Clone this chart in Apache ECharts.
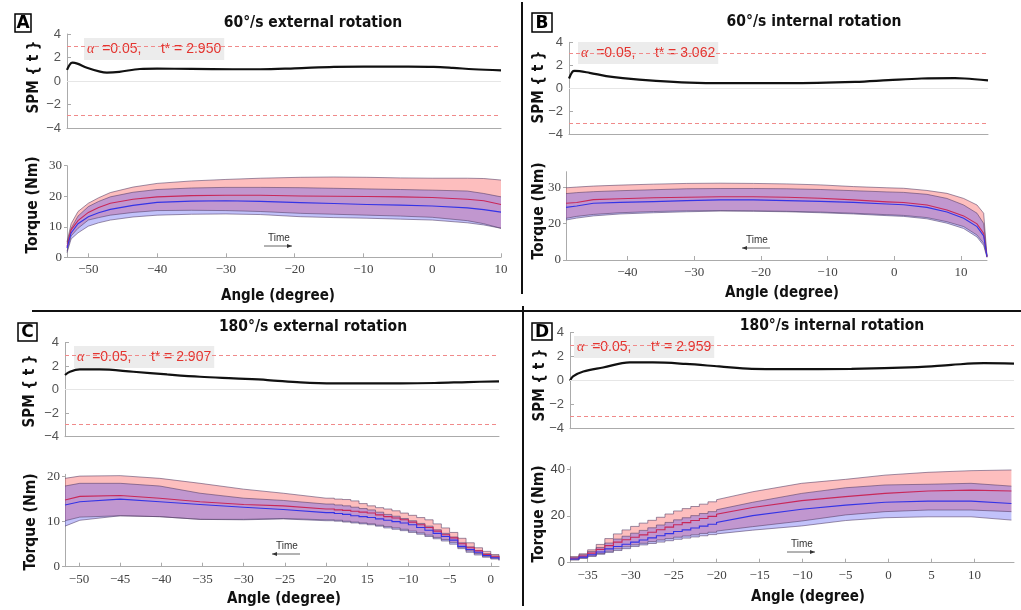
<!DOCTYPE html>
<html><head><meta charset="utf-8">
<script src="https://cdn.jsdelivr.net/npm/echarts@6/dist/echarts.min.js"></script>
<style>html,body{margin:0;padding:0;background:#fff}#c{width:1021px;height:610px}</style>
</head><body><div id="c"></div>
<script>
// ---------------- DATA ----------------
// SPM{t} curves
const A_spmAngle = [-53.1,-52.7,-52.3,-51.6,-50.2,-48.3,-47.3,-45.5,-42.5,-40,-35,-29,-25,-20,-14.3,-10,-5,0.2,3,6,10];
const A_spmT     = [0.94,1.4,1.56,1.48,1.13,0.8,0.72,0.78,1.02,1.05,1.03,1.0,1.0,1.08,1.2,1.23,1.22,1.2,1.12,1.0,0.91];
const B_spmAngle = [-49.2,-48.7,-48.35,-46.1,-43.6,-41.1,-36.1,-31.1,-26.1,-16.1,-6.1,-1.1,3.9,8.9,10.4,13.9];
const B_spmT     = [0.84,1.42,1.51,1.34,1.05,0.87,0.64,0.49,0.44,0.44,0.55,0.7,0.84,0.87,0.84,0.67];
const C_spmAngle = [-51.7,-51.1,-49.9,-47.5,-43.4,-39.3,-35.3,-31.2,-27.1,-23.1,-19,-10.9,-6.8,-2.8,1.0];
const C_spmT     = [1.25,1.53,1.73,1.73,1.53,1.3,1.1,0.96,0.82,0.62,0.54,0.54,0.57,0.65,0.71];
const D_spmAngle = [-37.05,-36.7,-35.5,-33.2,-30.1,-27.4,-23.6,-19.7,-15.9,-12.0,-4.3,3.4,7.3,11.1,14.6];
const D_spmT     = [0,0.36,0.77,1.1,1.52,1.52,1.4,1.19,0.99,0.97,0.99,1.13,1.32,1.46,1.43];
// critical thresholds
const A_tstar = 2.950, B_tstar = 3.062, C_tstar = 2.907, D_tstar = 2.959;
const alphaText = '0.05';

// Torque bands (red group / blue group: upper, mean, lower)
const A_angle   = [-53.1,-52.5,-51.5,-50,-48.5,-46.8,-43.5,-40,-35,-30,-25,-19.2,-14.3,-9.5,-4.6,0,5.1,7.5,10];
const A_redUp   = [5,11,15,17.7,19.5,21.2,23,24.2,25,25.5,25.9,26.2,26.3,26.2,26,25.9,25.9,25.8,25.3];
const A_redMean = [3.5,9,12,14.7,16.3,17.7,19,19.8,20.2,20.3,20.3,20.1,20,19.9,19.8,19.6,19,18.5,17.3];
const A_redLow  = [2,7,9.5,12.2,13,13.8,14.7,15.3,15.4,15.3,15,14.4,14.1,13.8,13.5,13.1,12,11,9.5];
const A_bluUp   = [4.5,9.5,13.5,16.6,18.3,19.8,21.3,22.2,22.7,22.9,22.9,22.8,22.6,22.4,22.2,22,21.7,20.9,19.8];
const A_bluMean = [3,8,11,13.3,14.6,15.7,17,18,18.4,18.5,18.3,17.9,17.6,17.3,17.1,16.8,16.2,15.6,14.8];
const A_bluLow  = [1.5,6,8,10.2,11.3,12.2,13.2,13.8,14.1,14.2,14,13.3,13,12.8,12.5,12.2,11.3,10.6,9.5];

const B_angle   = [-49.2,-47.6,-45.1,-41.1,-36.1,-31.1,-26.1,-21.1,-16.1,-11.1,-6.1,-1.1,1.4,4.9,7.9,10.4,12.4,13.4,13.9];
const B_redUp   = [29.8,30.1,30.5,30.9,31.3,31.6,31.7,31.6,31.4,31,30.3,29.8,29.6,28.7,27.5,25.4,22.7,19.3,1.4];
const B_redMean = [23.4,23.7,24.9,25.3,25.7,25.9,26.1,26.1,25.9,25.5,24.8,24,23.7,22.7,20.6,18.2,14.9,11,1.4];
const B_redLow  = [17.2,18,18.8,19.5,20,20.3,20.4,20.3,20.1,19.8,19.3,18.7,18.4,17.5,15.8,13.8,10.3,6.9,1.4];
const B_bluUp   = [27.4,27.8,28.2,28.6,29.0,29.4,29.5,29.5,29.4,29.1,28.6,28.1,27.9,27.1,25.4,22.7,19.3,15.1,1.4];
const B_bluMean = [21.7,22.3,23.4,23.8,24.1,24.5,24.8,24.8,24.5,24.2,23.8,23.1,22.8,21.7,19.8,17.2,13.8,9.9,1.4];
const B_bluLow  = [16.5,17.3,18.2,19,19.5,19.9,20.2,20.1,19.9,19.5,19,18.3,18,17,15.2,13,9.5,6,1.0];

const C_angle   = [-51.7,-49.9,-45,-40.2,-35.3,-30,-25.2,-20,-19,-18,-17,-16,-15,-14,-13,-12,-11,-10,-9,-8,-7,-6,-5,-4,-3,-2,-1,0,1];
const C_redUp   = [19.6,20.1,20.2,19.6,18.5,17.2,16.3,15.2,15.0,14.9,14.6,14.0,13.5,13.1,12.8,12.4,11.9,11.4,10.9,10.4,9.5,8.6,7.6,6.3,5.3,4.2,3.4,2.7,2.2];
const C_redMean = [14.8,15.6,15.8,15.2,14.4,13.8,13.5,12.8,12.6,12.5,12.3,12.1,11.9,11.5,11.1,10.8,10.4,9.9,9.3,8.7,7.9,7.1,6.4,5.1,4.2,3.5,2.7,2.2,1.9];
const C_redLow  = [10.2,11,11.3,11.1,10.5,10.5,10.7,10.4,10.3,10.1,9.9,9.7,9.5,9.2,8.9,8.6,8.3,7.9,7.5,7.0,6.5,6.0,5.4,4.3,3.5,2.9,2.3,1.9,1.5];
const C_bluUp   = [17.9,18.5,18.5,17.9,16.3,15.2,14.7,13.9,13.7,13.5,13.2,12.9,12.6,12.1,11.6,11.2,10.7,10.2,9.6,9.0,8.2,7.4,6.6,5.3,4.4,3.6,2.9,2.4,2.1];
const C_bluMean = [13.7,14.4,15,14.4,13.8,13.2,12.7,12.0,11.8,11.6,11.3,11.1,10.9,10.6,10.3,10.0,9.7,9.3,8.7,8.1,7.4,6.7,5.9,4.5,3.8,3.2,2.5,2.0,1.6];
const C_bluLow  = [9.0,10.3,11.3,11.1,10.5,10.4,10.6,10.2,10.1,9.9,9.7,9.5,9.3,9.0,8.6,8.3,8.0,7.6,7.2,6.7,6.2,5.7,5.0,4.0,3.2,2.6,2.1,1.7,1.3];

const D_angle   = [-37.05,-36,-35,-34,-33,-32,-31,-30,-29,-28,-27,-26,-25,-24,-23,-22,-21,-20,-15.8,-10.1,-5.0,-0.4,4.6,9.6,14.3];
const D_redUp   = [2.6,3.8,5.5,7.8,10.3,12.3,14,15.5,16.9,18.1,19.4,20.8,22.1,23.1,24.0,25.0,26.0,26.9,30.3,33.9,35.6,37.4,38.6,39.3,39.6];
const D_redMean = [1.9,2.8,4.1,5.7,7.3,8.8,9.8,10.9,11.9,13.0,14.1,15.2,16.2,17.1,18.0,18.9,19.8,20.7,23.6,26.5,28.2,29.6,30.6,31.0,30.6];
const D_redLow  = [1.4,2.1,2.9,3.9,4.9,5.9,6.8,7.6,8.3,9.0,9.7,10.3,10.9,11.4,11.9,12.5,13.0,13.5,15.4,17.8,20.4,21.8,22.5,22.5,21.8];
const D_bluUp   = [2.3,3.4,4.8,6.5,8.4,10.1,11.3,12.6,13.8,14.9,16.1,17.2,18.3,19.2,20.1,21.0,21.8,22.6,25.8,29.6,32,33.2,33.5,33.9,32.7];
const D_bluMean = [1.6,2.4,3.4,4.6,5.9,6.9,7.9,8.8,9.7,10.6,11.5,12.4,13.3,14.0,14.8,15.6,16.4,17.2,20.1,22.8,24.6,25.8,26.3,26.3,25.3];
const D_bluLow  = [1.1,1.8,2.7,3.6,4.4,5.2,6.0,6.9,7.6,8.2,8.8,9.4,10.0,10.5,11.0,11.5,12.0,12.3,13.9,15.7,18,19.2,19.6,19.6,18.2];

// Tick values and tick labels
const SPM_yTicks = [-4,-2,0,2,4];
const SPM_yLabels = ['\u22124','\u22122','0','2','4'];
const A_xTicks = [-50,-40,-30,-20,-10,0,10];
const A_xLabels = ['\u221250','\u221240','\u221230','\u221220','\u221210','0','10'];
const A_yTicks = [0,10,20,30];
const A_yLabels = ['0','10','20','30'];
const B_xTicks = [-40,-30,-20,-10,0,10];
const B_xLabels = ['\u221240','\u221230','\u221220','\u221210','0','10'];
const B_yTicks = [0,15,30];
const B_yLabels = ['0','20','30'];
const C_xTicks = [-50,-45,-40,-35,-30,-25,-20,-15,-10,-5,0];
const C_xLabels = ['\u221250','\u221245','\u221240','\u221235','\u221230','\u221225','\u221220','15','\u221210','\u22125','0'];
const C_yTicks = [0,10,20];
const C_yLabels = ['0','10','20'];
const D_xTicks = [-35,-30,-25,-20,-15,-10,-5,0,5,10];
const D_xLabels = ['\u221235','\u221230','\u221225','\u221220','\u221215','\u221210','\u22125','0','5','10'];
const D_yTicks = [0,20,40];
const D_yLabels = ['0','20','40'];

// Text
const titles = ['60\u00b0/s external rotation','60\u00b0/s internal rotation','180\u00b0/s external rotation','180\u00b0/s internal rotation'];
const letters = ['A','B','C','D'];

// ---------------- LAYOUT ----------------
const panels = [
  {spmGrid:{left:67,top:34,width:434,height:94}, tqGrid:{left:67,top:165.7,width:434,height:91.6},
   xMin:-53.1,xMax:10, yMax:30, spmAng:A_spmAngle, spmT:A_spmT, tstar:A_tstar,
   ang:A_angle, rU:A_redUp, rM:A_redMean, rL:A_redLow, bU:A_bluUp, bM:A_bluMean, bL:A_bluLow,
   xT:A_xTicks, xL:A_xLabels, yT:A_yTicks, yL:A_yLabels, yFont:'Liberation Serif', step:null,
   title:{x:313,y:23}, letter:{x:15,y:14,w:16,h:18}, box:{x:84,y:38},
   angleName:{x:278,y:296}, torqueName:{x:33,y:205}, spmName:{x:34,y:77},
   time:{x:278,y:238,dir:1}},
  {spmGrid:{left:569,top:42.3,width:419,height:91.7}, tqGrid:{left:566,top:171.7,width:421,height:88.3},
   xMin:-49.2,xMax:13.9, yMax:36.44, spmAng:B_spmAngle, spmT:B_spmT, tstar:B_tstar,
   ang:B_angle, rU:B_redUp, rM:B_redMean, rL:B_redLow, bU:B_bluUp, bM:B_bluMean, bL:B_bluLow,
   xT:B_xTicks, xL:B_xLabels, yT:B_yTicks, yL:B_yLabels, yFont:'Liberation Serif', step:null,
   title:{x:814,y:22}, letter:{x:532,y:13,w:20,h:19}, box:{x:578,y:42},
   angleName:{x:782,y:293}, torqueName:{x:539,y:211}, spmName:{x:539,y:87},
   time:{x:756,y:240,dir:-1}},
  {spmGrid:{left:65,top:342.7,width:434,height:94}, tqGrid:{left:65,top:474.3,width:434,height:92.4},
   xMin:-51.7,xMax:1.0, yMax:20.5, spmAng:C_spmAngle, spmT:C_spmT, tstar:C_tstar,
   ang:C_angle, rU:C_redUp, rM:C_redMean, rL:C_redLow, bU:C_bluUp, bM:C_bluMean, bL:C_bluLow,
   xT:C_xTicks, xL:C_xLabels, yT:C_yTicks, yL:C_yLabels, yFont:'Liberation Serif', step:[-20.5,2],
   title:{x:313,y:327}, letter:{x:18,y:323,w:19,h:18}, box:{x:74,y:346},
   angleName:{x:284,y:599}, torqueName:{x:31,y:522}, spmName:{x:30,y:391},
   time:{x:286,y:546,dir:-1}},
  {spmGrid:{left:570,top:332.7,width:444,height:96}, tqGrid:{left:570,top:466.7,width:444,height:96},
   xMin:-37.05,xMax:14.6, yMax:41, spmAng:D_spmAngle, spmT:D_spmT, tstar:D_tstar,
   ang:D_angle, rU:D_redUp, rM:D_redMean, rL:D_redLow, bU:D_bluUp, bM:D_bluMean, bL:D_bluLow,
   xT:D_xTicks, xL:D_xLabels, yT:D_yTicks, yL:D_yLabels, yFont:'Liberation Sans', step:[-38,-19.5],
   title:{x:832,y:326}, letter:{x:532,y:323,w:20,h:17}, box:{x:574,y:336},
   angleName:{x:808,y:597}, torqueName:{x:539,y:514}, spmName:{x:540,y:385},
   time:{x:801,y:544,dir:1}}
];

const AX = '#ababab';
const BOLD = '"DejaVu Sans Condensed", "DejaVu Sans"';
const option = {animation:false, grid:[], xAxis:[], yAxis:[], series:[], graphic:[]};
let gi = 0;

function linePts(api, ang, val, step) {
  const out = [];
  for (let i = 0; i < ang.length; i++) {
    if (step && i > 0 && ang[i - 1] >= step[0] && ang[i] <= step[1]) {
      out.push(api.coord([ang[i], val[i - 1]]));
    }
    out.push(api.coord([ang[i], val[i]]));
  }
  return out;
}
function bandSeries(g, ang, up, low, fill, step) {
  return {type:'custom', xAxisIndex:g, yAxisIndex:g, silent:true,
    data: ang.map((a,i)=>[a, up[i], low[i]]), encode:{x:0, y:[1,2]},
    renderItem: function(params, api) {
      if (params.dataIndex !== 0) return null;
      const u = linePts(api, ang, up, step), l = linePts(api, ang, low, step);
      return {type:'polygon', shape:{points:u.concat(l.slice().reverse())}, style:{fill:fill}};
    }};
}
function curveSeries(g, ang, val, color, width, step) {
  return {type:'custom', xAxisIndex:g, yAxisIndex:g, silent:true,
    data: ang.map((a,i)=>[a, val[i]]), encode:{x:0, y:1},
    renderItem: function(params, api) {
      if (params.dataIndex !== 0) return null;
      return {type:'polyline', shape:{points:linePts(api, ang, val, step)}, style:{stroke:color, lineWidth:width, fill:null}};
    }};
}

panels.forEach(function(p, k) {
  // SPM grid
  option.grid.push(Object.assign({}, p.spmGrid));
  const gs = gi++;
  option.xAxis.push({type:'value', gridIndex:gs, min:p.xMin, max:p.xMax,
    axisLine:{show:true, onZero:false, lineStyle:{color:AX, width:1}}, axisTick:{show:false}, axisLabel:{show:false}, splitLine:{show:false}});
  option.yAxis.push({type:'value', gridIndex:gs, min:-4, max:4, interval:2,
    axisLine:{show:true, onZero:false, lineStyle:{color:AX}}, axisTick:{show:true, inside:true, length:4, lineStyle:{color:AX}},
    axisLabel:{color:'#555', fontFamily:'Liberation Sans', fontSize:13, margin:6,
      formatter: v => { const i = SPM_yTicks.indexOf(v); return i < 0 ? '' : SPM_yLabels[i]; }},
    splitLine:{show:false}});
  option.series.push({type:'line', xAxisIndex:gs, yAxisIndex:gs, data:p.spmAng.map((a,i)=>[a, p.spmT[i]]),
    smooth:0.35, symbol:'none', silent:true, lineStyle:{color:'#111', width:2.2},
    markLine:{silent:true, symbol:['none','none'], label:{show:false},
      data:[{yAxis:0, lineStyle:{color:'#e6e6e6', type:'solid', width:1}},
            {yAxis:p.tstar, lineStyle:{color:'#f08a8a', type:[4,3], width:1}},
            {yAxis:-p.tstar, lineStyle:{color:'#f08a8a', type:[4,3], width:1}}]}});

  // Torque grid
  option.grid.push(Object.assign({}, p.tqGrid));
  const gt = gi++;
  option.xAxis.push({type:'value', gridIndex:gt, min:p.xMin, max:p.xMax,
    axisLine:{show:true, onZero:false, lineStyle:{color:AX}},
    axisTick:{show:true, inside:true, length:4, customValues:p.xT, lineStyle:{color:AX}},
    axisLabel:{customValues:p.xT, color:'#444', fontFamily:'Liberation Serif', fontSize:13, margin:6,
      formatter: v => { const i = p.xT.indexOf(v); return i < 0 ? '' : p.xL[i]; }},
    splitLine:{show:false}});
  option.yAxis.push({type:'value', gridIndex:gt, min:0, max:p.yMax,
    axisLine:{show:true, onZero:false, lineStyle:{color:AX}},
    axisTick:{show:true, inside:false, length:3, customValues:p.yT, lineStyle:{color:AX}},
    axisLabel:{customValues:p.yT, color:'#444', fontFamily:p.yFont, fontSize:13, margin:5,
      formatter: v => { const i = p.yT.indexOf(v); return i < 0 ? '' : p.yL[i]; }},
    splitLine:{show:false}});
  option.series.push(bandSeries(gt, p.ang, p.rU, p.rL, 'rgba(250,75,75,0.36)', p.step));
  option.series.push(bandSeries(gt, p.ang, p.bU, p.bL, 'rgba(70,70,240,0.33)', p.step));
  const edge = 'rgba(80,60,100,0.7)';
  [p.rU, p.rL, p.bU, p.bL].forEach(arr => option.series.push(curveSeries(gt, p.ang, arr, edge, 0.8, p.step)));
  option.series.push(curveSeries(gt, p.ang, p.rM, '#c8285a', 1.1, p.step));
  option.series.push(curveSeries(gt, p.ang, p.bM, '#3434e6', 1.1, p.step));

  // Decorations / text
  option.graphic.push({type:'text', x:p.title.x, y:p.title.y, style:{text:titles[k], font:'bold 15.5px ' + BOLD, fill:'#111', align:'center', verticalAlign:'middle'}});
  option.graphic.push({type:'rect', shape:{x:p.letter.x, y:p.letter.y, width:p.letter.w, height:p.letter.h}, style:{fill:'#fff', stroke:'#000', lineWidth:1.5}});
  option.graphic.push({type:'text', x:p.letter.x + p.letter.w/2, y:p.letter.y + p.letter.h/2 + 1, style:{text:letters[k], font:'bold 17px "DejaVu Sans"', fill:'#000', align:'center', verticalAlign:'middle'}});
  option.graphic.push({type:'text', x:p.box.x, y:p.box.y, style:{
    text:'{a|\u03b1}  =' + alphaText + ',     t* = ' + p.tstar.toFixed(3),
    font:'14px "Liberation Sans"', fill:'#e3342f', backgroundColor:'#ececec', padding:[4,3,4,3],
    rich:{a:{font:'italic 14px "Liberation Serif"', fill:'#e3342f'}}}});
  option.graphic.push({type:'text', x:p.angleName.x, y:p.angleName.y, style:{text:'Angle (degree)', font:'bold 15px ' + BOLD, fill:'#111', align:'center', verticalAlign:'middle'}});
  option.graphic.push({type:'text', x:p.torqueName.x, y:p.torqueName.y, rotation:Math.PI/2, style:{text:'Torque (Nm)', font:'bold 15.5px ' + BOLD, fill:'#111', align:'center', verticalAlign:'middle'}});
  option.graphic.push({type:'text', x:p.spmName.x, y:p.spmName.y, rotation:Math.PI/2, style:{text:'SPM { t }', font:'bold 15px ' + BOLD, fill:'#111', align:'center', verticalAlign:'middle'}});
  // "Time" direction arrow
  const t = p.time, hw = 14;
  option.graphic.push({type:'text', x:t.x + 1, y:t.y, style:{text:'Time', font:'10px "Liberation Sans"', fill:'#333', align:'center', verticalAlign:'middle'}});
  option.graphic.push({type:'line', shape:{x1:t.x - hw, y1:t.y + 8, x2:t.x + hw, y2:t.y + 8}, style:{stroke:'#666', lineWidth:1}});
  const tipX = t.dir > 0 ? t.x + hw : t.x - hw;
  option.graphic.push({type:'polygon', shape:{points:[[tipX, t.y + 8],[tipX - 5*t.dir, t.y + 6],[tipX - 5*t.dir, t.y + 10]]}, style:{fill:'#333'}});
});

// panel separators
option.graphic.push({type:'line', shape:{x1:522, y1:2, x2:522, y2:294}, style:{stroke:'#111', lineWidth:2}});
option.graphic.push({type:'line', shape:{x1:32, y1:311, x2:1021, y2:311}, style:{stroke:'#111', lineWidth:2}});
option.graphic.push({type:'line', shape:{x1:523, y1:306, x2:523, y2:606}, style:{stroke:'#111', lineWidth:2}});

const chart = echarts.init(document.getElementById('c'), null, {renderer:'canvas'});
chart.setOption(option);
</script></body></html>
